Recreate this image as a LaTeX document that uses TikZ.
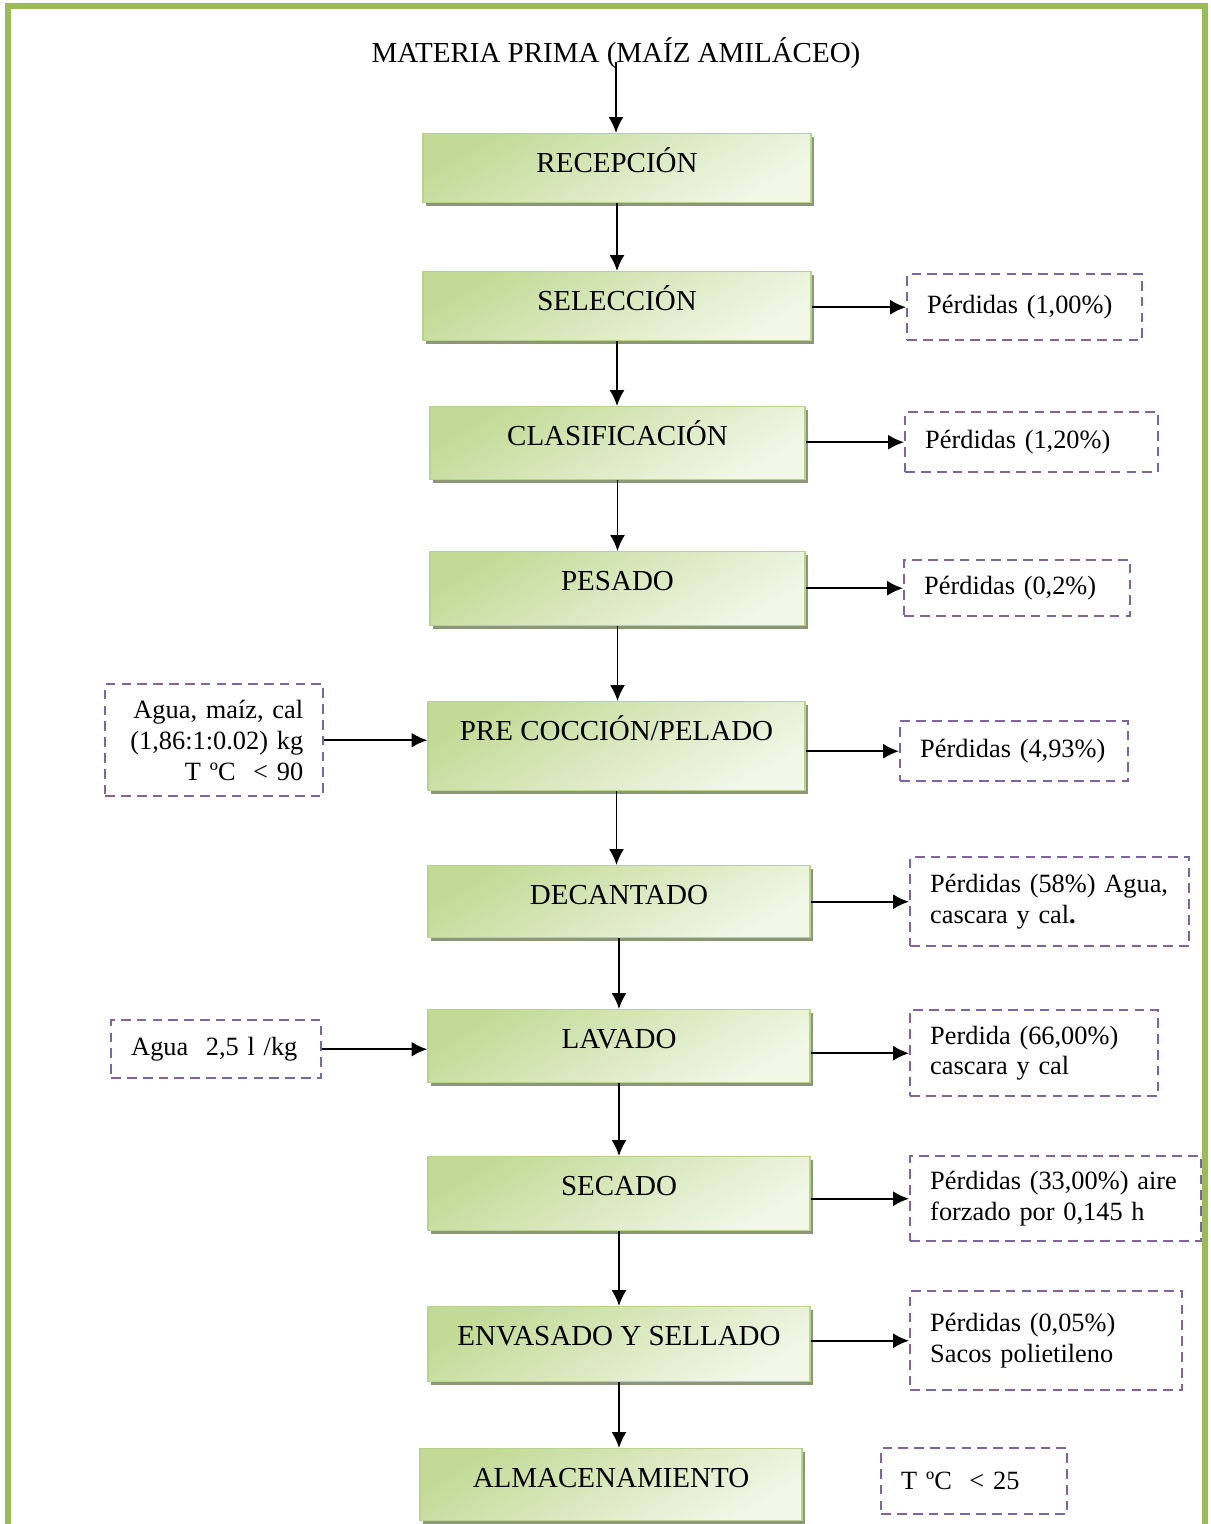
\documentclass[tikz,border=0pt]{standalone}
\usepackage{fontspec}
\setmainfont{Liberation Serif}
\usetikzlibrary{arrows.meta}
\usetikzlibrary{positioning}
\usetikzlibrary{shadows}
\definecolor{marco}{RGB}{155,187,89}
\definecolor{verdeosc}{RGB}{194,218,150}
\definecolor{verdecla}{RGB}{242,247,232}
\definecolor{bordeverde}{RGB}{184,212,140}
\definecolor{sombra}{RGB}{140,150,120}
\definecolor{morado}{RGB}{128,100,162}
\tikzset{
    paso/.style = {draw=bordeverde,line width=0.8pt,top color=verdeosc,bottom color=verdecla,shading angle=30,
        drop shadow={shadow xshift=0.06cm,shadow yshift=-0.06cm,fill=sombra,opacity=1},
        anchor=north,inner xsep=0pt,inner ysep=0pt,text height=0.78cm,font=\fontsize{16.5}{19}\selectfont},
    nota/.style = {draw=morado,line width=1.4pt,dash pattern=on 5.5pt off 3.5pt,anchor=north west,
        inner xsep=0.4cm,inner ysep=0pt,align=left,font=\fontsize{15}{17.5}\selectfont},
    flujo/.style = {line width=1.1pt,-{Latex[length=9pt,width=8.5pt]}},
    marcohoja/.style = {draw=marco,line width=3.7pt}
}
\begin{document}
\begin{tikzpicture}[x=0.02cm,y=-0.02cm]
        \useasboundingbox (0,0) rectangle (1210,1524);
        % Page frame
        \draw[marcohoja] (8,1540) -- (8,6) -- (1205,6) -- (1205,1540);
        % Raw material
        \node[font=\fontsize{16.5}{19}\selectfont] (titulo) at (616,53) {MATERIA PRIMA (MAÍZ AMILÁCEO)};
        \coordinate (inicio) at (616,62);
        % Process steps
        \node[paso,minimum width=7.76cm,text depth=0.60cm] (rec) at (617,133) {RECEPCIÓN};
        \node[paso,minimum width=7.76cm,text depth=0.60cm] (sel) at (617,271) {SELECCIÓN};
        \node[paso,minimum width=7.50cm,text depth=0.68cm] (cla) at (617.5,406) {CLASIFICACIÓN};
        \node[paso,minimum width=7.50cm,text depth=0.70cm] (pes) at (617.5,551) {PESADO};
        \node[paso,minimum width=7.54cm,text depth=1.00cm] (pre) at (616.5,701) {PRE COCCIÓN/PELADO};
        \node[paso,minimum width=7.64cm,text depth=0.66cm] (dec) at (619,865) {DECANTADO};
        \node[paso,minimum width=7.64cm,text depth=0.68cm] (lav) at (619,1009) {LAVADO};
        \node[paso,minimum width=7.64cm,text depth=0.70cm] (sec) at (619,1156) {SECADO};
        \node[paso,minimum width=7.64cm,text depth=0.72cm] (env) at (619,1306) {ENVASADO Y SELLADO};
        \node[paso,minimum width=7.64cm,text depth=0.66cm] (alm) at (611,1448) {ALMACENAMIENTO};
        % Losses
        \node[nota,text width=3.90cm,minimum height=1.32cm] (p1) at (906,273) {Pérdidas (1,00\%)};
        \node[nota,text width=4.26cm,minimum height=1.20cm] (p2) at (904,411) {Pérdidas (1,20\%)};
        \node[nota,text width=3.72cm,minimum height=1.12cm] (p3) at (903,559) {Pérdidas (0,2\%)};
        \node[nota,text width=3.76cm,minimum height=1.20cm] (p4) at (899,720) {Pérdidas (4,93\%)};
        \node[nota,text width=4.78cm,minimum height=1.78cm] (p5) at (909,856) {Pérdidas (58\%) Agua,\\cascara y cal\textbf{.}};
        \node[nota,text width=4.16cm,minimum height=1.72cm] (p6) at (909,1009) {Perdida (66,00\%)\\cascara y cal};
        \node[nota,text width=5.02cm,minimum height=1.70cm] (p7) at (909,1155) {Pérdidas (33,00\%) aire\\forzado por 0,145 h};
        \node[nota,text width=4.64cm,minimum height=1.98cm] (p8) at (909,1290) {Pérdidas (0,05\%)\\Sacos polietileno};
        \node[nota,text width=2.92cm,minimum height=1.32cm] (p9) at (880,1447) {T ºC~~< 25};
        % Inputs
        \node[nota,align=right,text width=3.56cm,minimum height=2.24cm] (l1) at (104,683) {Agua, maíz, cal\\(1,86:1:0.02) kg\\T ºC~~< 90};
        \node[nota,text width=3.40cm,minimum height=1.16cm] (l2) at (110,1019) {Agua~~2,5 l /kg};
        % Flow
        \draw[flujo] (inicio) to (inicio |- rec.north);
        \foreach \src/\dest in {rec/sel,sel/cla,cla/pes,pes/pre,pre/dec,dec/lav,lav/sec,sec/env,env/alm}
            \draw[flujo] (\src.south) to (\src.south |- \dest.north);
        \foreach \src/\dest in {sel/p1,cla/p2,pes/p3,pre/p4,dec/p5,lav/p6,sec/p7,env/p8}
            \draw[flujo] (\dest.west -| \src.east) to (\dest.west);
        \foreach \src/\dest in {l1/pre,l2/lav}
            \draw[flujo] (\src.east) to (\src.east -| \dest.west);
    \end{tikzpicture}
\end{document}
